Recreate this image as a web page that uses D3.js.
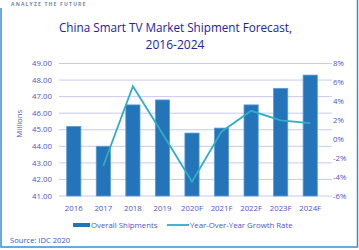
<!DOCTYPE html>
<html>
<head>
<meta charset="utf-8">
<script src="https://cdn.jsdelivr.net/npm/d3@7"></script>
<style>
  body { margin: 0; background: #fff; }
  svg { font-family: "Open Sans", "Noto Sans", sans-serif; }
</style>
</head>
<body>
<div id="chart"></div>
<script>
const years = ['2016','2017','2018','2019','2020F','2021F','2022F','2023F','2024F'];
const shipments = [45.2, 44.0, 46.5, 46.8, 44.8, 45.1, 46.5, 47.5, 48.3];
const growth = [null, -2.8, 5.6, 0.6, -4.5, 0.8, 3.0, 2.0, 1.7];
const leftTicks = [41, 42, 43, 44, 45, 46, 47, 48, 49];
const rightTicks = [-6, -4, -2, 0, 2, 4, 6, 8];

var width = 359, height = 250;
var margin = {top: 63.5, right: 34, bottom: 54, left: 59};
var innerW = width - margin.left - margin.right,
    innerH = height - margin.top - margin.bottom;
var labelColor = "#5353c4";

var svg = d3.select("#chart").append("svg")
  .attr("width", width)
  .attr("height", height);

// frame
svg.append("path")
  .attr("d", "M1,8 V247 H357.5 V0")
  .attr("fill", "none")
  .attr("stroke", "#3a8fd0")
  .attr("stroke-width", 1.5);

svg.append("text")
  .attr("x", 11).attr("y", 6)
  .style("font-size", "5px")
  .style("letter-spacing", "1.2px")
  .style("font-weight", "bold")
  .style("fill", "#6f8aa6")
  .text("ANALYZE THE FUTURE");

// title
svg.append("text")
  .attr("x", 59).attr("y", 31.5)
  .attr("textLength", 233).attr("lengthAdjust", "spacingAndGlyphs")
  .style("font-size", "12.5px")
  .style("fill", "#2222a8")
  .text("China Smart TV Market Shipment Forecast,");
svg.append("text")
  .attr("x", 175).attr("y", 49)
  .attr("text-anchor", "middle")
  .style("font-size", "12px")
  .style("fill", "#2222a8")
  .text("2016-2024");

var g = svg.append("g").attr("transform", "translate(" + margin.left + "," + margin.top + ")");

var x = d3.scaleBand().domain(years).range([0, innerW]).paddingInner(0.52).paddingOuter(0.26);
var y = d3.scaleLinear().domain([41, 49]).range([innerH, 0]);
var y2 = d3.scaleLinear().domain([-6, 8]).range([innerH, 0]);

// gridlines
g.selectAll(".grid").data(leftTicks).enter().append("line")
  .attr("x1", 0).attr("x2", innerW + 7)
  .attr("y1", d => y(d)).attr("y2", d => y(d))
  .attr("stroke", "#c9c9f2").attr("stroke-width", 1);

// left axis labels
g.selectAll(".lt").data(leftTicks).enter().append("text")
  .attr("x", -7).attr("y", d => y(d)).attr("dy", "0.35em")
  .attr("text-anchor", "end")
  .style("font-size", "7.8px").style("fill", labelColor)
  .text(d => d.toFixed(2));

// right axis labels
g.selectAll(".rt").data(rightTicks).enter().append("text")
  .attr("x", innerW + 8).attr("y", d => y2(d)).attr("dy", "0.35em")
  .style("font-size", "7.8px").style("fill", labelColor)
  .text(d => d + "%");

svg.append("text")
  .attr("transform", "translate(22," + (margin.top + innerH / 2 - 6) + ") rotate(-90)")
  .attr("text-anchor", "middle")
  .style("font-size", "7.8px").style("fill", labelColor)
  .text("Millions");

// bars
g.selectAll(".bar").data(shipments).enter().append("rect")
  .attr("x", (d, i) => x(years[i]))
  .attr("width", x.bandwidth())
  .attr("y", d => y(d))
  .attr("height", d => innerH - y(d))
  .attr("fill", "#2374b8")
  .attr("stroke", "#5b9bd5")
  .attr("stroke-width", 0.8);

// line
var line = d3.line()
  .defined(d => d !== null)
  .x((d, i) => x(years[i]) + x.bandwidth() / 2)
  .y(d => y2(d));
g.append("path")
  .datum(growth)
  .attr("d", line)
  .attr("fill", "none")
  .attr("stroke", "#2eadc6")
  .attr("stroke-width", 1.8);

// x labels
g.selectAll(".xl").data(years).enter().append("text")
  .attr("x", d => x(d) + x.bandwidth() / 2)
  .attr("y", innerH + 15)
  .attr("text-anchor", "middle")
  .style("font-size", "7.8px").style("fill", labelColor)
  .text(d => d);

// legend
var leg = svg.append("g").attr("transform", "translate(0,225)");
leg.append("rect").attr("x", 73).attr("y", -2).attr("width", 17).attr("height", 4).attr("fill", "#2374b8");
leg.append("text").attr("x", 91).attr("y", 0).attr("dy", "0.35em")
  .style("font-size", "7.8px").style("fill", labelColor).text("Overall Shipments");
leg.append("line").attr("x1", 167).attr("x2", 189).attr("y1", 0).attr("y2", 0)
  .attr("stroke", "#2eadc6").attr("stroke-width", 1.8);
leg.append("text").attr("x", 190).attr("y", 0).attr("dy", "0.35em")
  .style("font-size", "7.8px").style("fill", labelColor).text("Year-Over-Year Growth Rate");

svg.append("text")
  .attr("x", 10).attr("y", 243)
  .style("font-size", "7.6px").style("fill", "#3b55c0")
  .text("Source: IDC 2020");
</script>
</body>
</html>
